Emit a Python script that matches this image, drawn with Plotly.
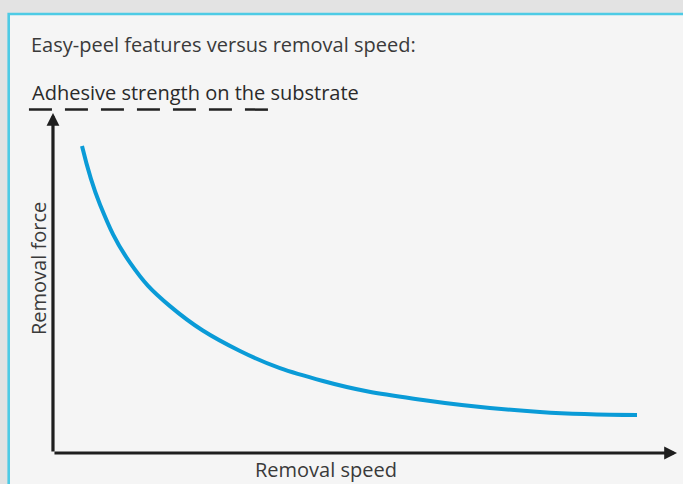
import plotly.graph_objects as go

# Data (abstract units: axis origin = 0, arrow tips = 100)
removal_speed = [4.65, 7.53, 12.34, 18.75, 29.97, 43.27, 59.29, 78.04, 93.59]
removal_force = [90.29, 73.1, 56.0, 43.2, 30.0, 21.18, 15.59, 12.06, 11.18]
adhesive_x = [-3.85, 34.46]
adhesive_level = [101.0, 101.0]

title_text = "Easy-peel features versus removal speed:"
adhesive_text = "Adhesive strength on the substrate"
x_label = "Removal speed"
y_label = "Removal force"

W, H = 683, 484
FONT = "Open Sans"
TXT = "#3a3a3a"
FS = 20

fig = go.Figure()
fig.add_trace(go.Scatter(x=removal_speed, y=removal_force, mode="lines",
                         line=dict(color="#0a9bd7", width=4, shape="spline", smoothing=1.2),
                         hoverinfo="skip"))
fig.add_trace(go.Scatter(x=adhesive_x, y=adhesive_level, mode="lines",
                         line=dict(color="#222222", width=2.5, dash="23px,13px"),
                         hoverinfo="skip"))

# axis arrows
for (hx, hy) in [(0, 100), (100, 0)]:
    fig.add_annotation(x=hx, y=hy, ax=0, ay=0, xref="x", yref="y", axref="x", ayref="y",
                       text="", showarrow=True, arrowhead=2, arrowsize=0.8,
                       arrowwidth=3.2, arrowcolor="#1e1e1e", standoff=0, startstandoff=0)

def px(xp):
    return xp / W

def py(yp):
    return 1 - yp / H

fig.add_annotation(x=px(29), y=py(45), xref="paper", yref="paper", text=title_text,
                   showarrow=False, xanchor="left", yanchor="middle",
                   font=dict(family=FONT, size=FS, color=TXT))
fig.add_annotation(x=px(30), y=py(92), xref="paper", yref="paper", text=adhesive_text,
                   showarrow=False, xanchor="left", yanchor="middle",
                   font=dict(family=FONT, size=FS, color="#2a2a2a"))
fig.add_annotation(x=px(38), y=py(269), xref="paper", yref="paper", text=y_label,
                   showarrow=False, xanchor="center", yanchor="middle", textangle=-90,
                   font=dict(family=FONT, size=FS, color=TXT))
fig.add_annotation(x=px(326), y=py(469), xref="paper", yref="paper", text=x_label,
                   showarrow=False, xanchor="center", yanchor="middle",
                   font=dict(family=FONT, size=FS, color=TXT))

# panel background with blue border
fig.add_shape(type="rect", xref="paper", yref="paper",
              x0=px(8.7), x1=1.2, y0=-0.2, y1=py(14),
              line=dict(color="#4ecbe5", width=2.6), fillcolor="#f5f5f5", layer="below")

fig.update_layout(
    width=W, height=H,
    margin=dict(l=0, r=0, t=0, b=0),
    paper_bgcolor="#e3e3e3", plot_bgcolor="rgba(0,0,0,0)",
    showlegend=False,
    xaxis=dict(range=[-8.49, 100.96], visible=False, fixedrange=True),
    yaxis=dict(range=[-9.12, 133.24], visible=False, fixedrange=True),
)

fig.write_html("out.html", config={"displayModeBar": False},
               post_script="document.body.style.margin='0';document.body.style.overflow='hidden';")
